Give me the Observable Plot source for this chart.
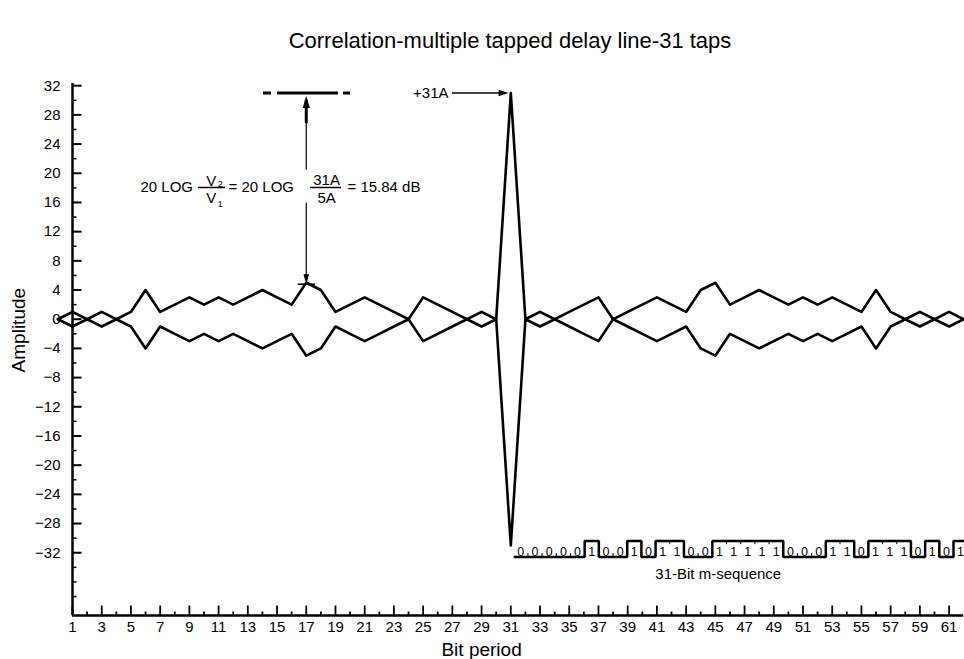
<!DOCTYPE html>
<html><head><meta charset="utf-8">
<script src="https://cdn.jsdelivr.net/npm/d3@7"></script>
<script src="https://cdn.jsdelivr.net/npm/@observablehq/plot@0.6"></script>
<style>
body{margin:0;background:#fff;font-family:"Liberation Sans",Arial,Helvetica,sans-serif;}
#title{position:relative;height:50px;width:964px;}
#title span{position:absolute;left:72px;width:876px;text-align:center;top:30px;font-size:22px;line-height:22px;color:#000;white-space:nowrap;}
</style></head><body>
<div id="title"><span>Correlation-multiple tapped delay line-31 taps</span></div>
<div id="chart"></div>
<script>
// ---- data ----
const bitPeriod = [0,1,2,3,4,5,6,7,8,9,10,11,12,13,14,15,16,17,18,19,20,21,22,23,24,25,26,27,28,29,30,
  31,32,33,34,35,36,37,38,39,40,41,42,43,44,45,46,47,48,49,50,51,52,53,54,55,56,57,58,59,60,61,62];
const amplitude = [0,1,0,1,0,1,4,1,2,3,2,3,2,3,4,3,2,5,4,1,2,3,2,1,0,3,2,1,0,1,0,
  31,0,1,0,1,2,3,0,1,2,3,2,1,4,5,2,3,4,3,2,3,2,3,2,1,4,1,0,1,0,1,0];
const mSequence = [0,0,0,0,0,1,0,0,1,0,1,1,0,0,1,1,1,1,1,0,0,0,1,1,0,1,1,1,0,1,0,1];
const xTickLabels = [1,3,5,7,9,11,13,15,17,19,21,23,25,27,29,31,33,35,37,39,41,43,45,47,49,51,53,55,57,59,61];
const yTickLabels = [32,28,24,20,16,12,8,4,0,-4,-8,-12,-16,-20,-24,-28,-32];
const yMinorTicks = [30,26,22,18,14,10,6,2,-2,-6,-10,-14,-18,-22,-26,-30,-34,-36,-38];
const peakValue = 31, sidelobeValue = 5, sidelobeBit = 17;

// ---- layout helpers ----
const yMin = -40.6, yMax = 32.3;
const seqStart = 31.2, seqCell = 0.971, seqLow = -32.6, seqHigh = -30.4;

const envelope = bitPeriod.map((b, i) => ({bit: b, upper: amplitude[i], lower: -amplitude[i]}));
const stepPts = mSequence.map((v, i) => ({x: seqStart + i * seqCell, y: v ? seqHigh : seqLow}));
stepPts.push({x: seqStart + mSequence.length * seqCell, y: mSequence[mSequence.length - 1] ? seqHigh : seqLow});
const seqDigits = mSequence.map((v, i) => ({x: seqStart + (i + 0.5) * seqCell, t: String(v)}));
const seqSeps = [];
for (let i = 1; i < mSequence.length; i++) {
  if (mSequence[i] === mSequence[i - 1]) {
    const x = seqStart + i * seqCell;
    seqSeps.push(mSequence[i] ? {x, y1: seqHigh, y2: seqHigh - 0.5} : {x, y1: seqLow, y2: seqLow + 0.5});
  }
}
const allBits = d3.range(1, 62);
const xMajor = allBits.filter(d => d % 2 === 1), xMinor = allBits.filter(d => d % 2 === 0);

const seg = (dx, dy) => ({draw(ctx) { ctx.moveTo(0, 0); ctx.lineTo(dx, dy); }});
const head = (len, half) => ({draw(ctx) { ctx.moveTo(0, 0); ctx.lineTo(-half, len); ctx.lineTo(half, len); ctx.closePath(); }});
const fmt = d => d < 0 ? "\u2212" + (-d) : String(d);

const chart = Plot.plot({
  width: 964, height: 609,
  marginLeft: 72, marginRight: 15.4, marginTop: 33, marginBottom: 44,
  x: {domain: [1, 61], axis: null},
  y: {domain: [yMin, yMax], axis: null},
  style: {fontFamily: '"Liberation Sans", Arial, Helvetica, sans-serif', fontSize: "15px", background: "white", color: "black", overflow: "visible"},
  marks: [
    // axes lines
    Plot.ruleX([1], {y1: yMin, y2: yMax, strokeWidth: 2.5}),
    Plot.ruleY([yMin], {x1: 1, x2: 62, strokeWidth: 2.5}),
    // y ticks
    Plot.dot(yTickLabels, {x: 1, y: d => d, symbol: seg(9, 0), stroke: "black", strokeWidth: 2, fill: "none"}),
    Plot.dot(yMinorTicks, {x: 1, y: d => d, symbol: seg(4, 0), stroke: "black", strokeWidth: 1.5, fill: "none"}),
    Plot.text(yTickLabels, {x: 1, y: d => d, dx: -12, textAnchor: "end", text: fmt, fontSize: 15}),
    // x ticks
    Plot.dot(xMajor, {x: d => d, y: yMin, symbol: seg(0, -10), stroke: "black", strokeWidth: 1.8, fill: "none"}),
    Plot.dot(xMinor, {x: d => d, y: yMin, symbol: seg(0, -4), stroke: "black", strokeWidth: 1.8, fill: "none"}),
    Plot.text(xTickLabels, {x: d => d, y: yMin, dy: 12, text: d => String(d), fontSize: 15}),
    // axis titles
    Plot.text(["Bit period"], {x: 29, y: yMin, dy: 34, fontSize: 19}),
    Plot.text(["Amplitude"], {x: 1, y: -1.5, dx: -54, rotate: -90, fontSize: 19}),
    // correlation envelope
    Plot.line(envelope, {x: "bit", y: "upper", strokeWidth: 2.6, strokeLinejoin: "round"}),
    Plot.line(envelope, {x: "bit", y: "lower", strokeWidth: 2.6, strokeLinejoin: "round"}),
    // m-sequence
    Plot.line(stepPts, {x: "x", y: "y", curve: "step-after", strokeWidth: 2.5, strokeLinejoin: "miter", strokeLinecap: "butt"}),
    Plot.ruleX(seqSeps, {x: "x", y1: "y1", y2: "y2", strokeWidth: 1}),
    Plot.text(seqDigits, {x: "x", y: -31.85, text: "t", fontSize: 12.5}),
    Plot.text(["31-Bit m-sequence"], {x: 45.2, y: -34.9, fontSize: 15}),
    // +31A annotation
    Plot.text(["+31A"], {x: 26.74, y: peakValue, textAnchor: "end", fontSize: 15}),
    Plot.ruleY([peakValue], {x1: 27.0, x2: 30.3, strokeWidth: 1.5}),
    Plot.dot([0], {x: 30.85, y: peakValue, symbol: head(10, 3.2), rotate: 90, fill: "black", stroke: "none"}),
    // dashed level line at 31A
    Plot.ruleY([peakValue], {x1: 14.07, x2: 20.03, strokeWidth: 3, strokeDasharray: "8,6,61,5,8", strokeLinecap: "butt"}),
    // vertical double arrow
    Plot.ruleX([sidelobeBit], {y1: 26.8, y2: 30.0, strokeWidth: 3}),
    Plot.ruleX([sidelobeBit], {y1: 20.4, y2: 30.0, strokeWidth: 1.2}),
    Plot.ruleX([sidelobeBit], {y1: sidelobeValue + 0.5, y2: 15.9, strokeWidth: 1.2}),
    Plot.dot([0], {x: sidelobeBit, y: 30.6, symbol: head(12, 3.6), fill: "black", stroke: "none"}),
    Plot.dot([0], {x: sidelobeBit, y: 4.8, symbol: head(10, 2.8), rotate: 180, fill: "black", stroke: "none"}),
    Plot.ruleY([4.8], {x1: 16.45, x2: 17.63, strokeWidth: 1.5}),
    // equation
    Plot.text(["20 LOG"], {x: 5.65, y: 18.05, textAnchor: "start", fontSize: 15}),
    Plot.text(["V"], {x: 10.5, y: 18.97, fontSize: 15}),
    Plot.text(["2"], {x: 11.12, y: 18.55, fontSize: 9}),
    Plot.ruleY([18.05], {x1: 9.62, x2: 11.47, strokeWidth: 1.5}),
    Plot.text(["V"], {x: 10.5, y: 16.54, fontSize: 15}),
    Plot.text(["1"], {x: 11.12, y: 15.75, fontSize: 9}),
    Plot.text(["= 20 LOG"], {x: 11.68, y: 18.05, textAnchor: "start", fontSize: 15}),
    Plot.text(["31A"], {x: 18.39, y: 19.0, fontSize: 15}),
    Plot.ruleY([18.05], {x1: 17.29, x2: 19.41, strokeWidth: 1.5}),
    Plot.text(["5A"], {x: 18.39, y: 16.54, fontSize: 15}),
    Plot.text(["= 15.84 dB"], {x: 19.82, y: 18.05, textAnchor: "start", fontSize: 15})
  ]
});
document.getElementById("chart").appendChild(chart);
</script>
</body></html>
